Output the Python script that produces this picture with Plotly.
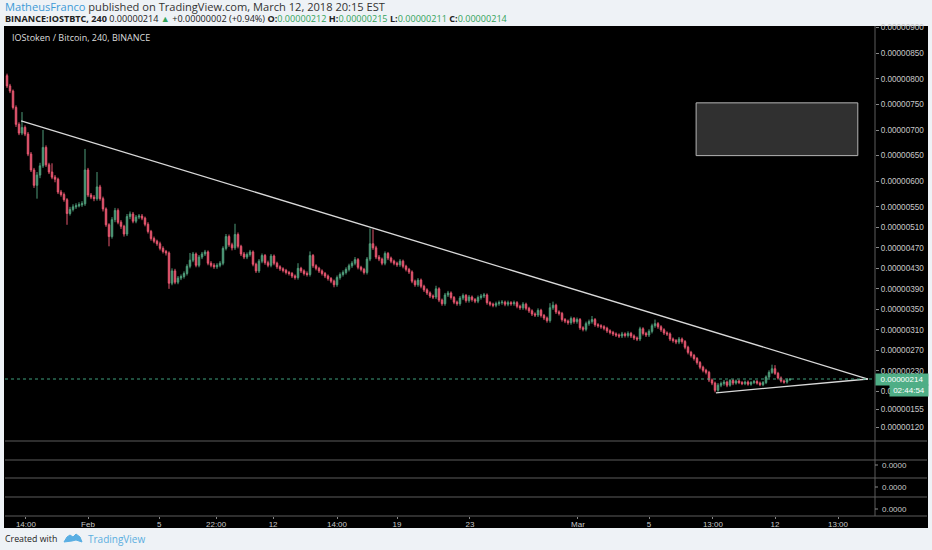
import numpy as np
import plotly.graph_objects as go

# IOST/BTC 4h candles, prices in satoshi (1e-8 BTC)
opens = [
    806, 786, 776, 744, 711, 694, 705, 692, 653, 622, 592, 612, 630, 666, 632, 618, 608, 604, 579, 574,
    564, 537, 545, 550, 552, 554, 556, 622, 573, 569, 566, 589, 566, 546, 515, 492, 525, 543, 520, 512,
    497, 531, 536, 522, 530, 532, 528, 516, 502, 488, 483, 478, 469, 463, 460, 401, 425, 403, 411, 414,
    420, 434, 446, 458, 436, 452, 458, 462, 440, 436, 433, 436, 440, 469, 492, 476, 470, 496, 473, 458,
    452, 457, 462, 438, 425, 444, 455, 441, 436, 454, 440, 433, 429, 426, 422, 420, 415, 412, 430, 425,
    420, 418, 455, 435, 430, 425, 420, 415, 410, 405, 398, 412, 418, 422, 428, 435, 440, 447, 432, 428,
    422, 448, 478, 470, 452, 448, 440, 459, 450, 444, 440, 437, 444, 434, 428, 423, 405, 398, 407, 395,
    388, 382, 376, 374, 390, 368, 361, 378, 382, 373, 364, 361, 372, 377, 367, 374, 369, 366, 373, 376,
    378, 363, 360, 358, 361, 363, 364, 360, 363, 361, 363, 356, 353, 360, 352, 347, 341, 339, 348, 338,
    333, 328, 353, 358, 345, 342, 330, 327, 324, 332, 326, 330, 314, 311, 322, 326, 330, 320, 318, 316,
    313, 308, 305, 302, 300, 298, 302, 299, 303, 298, 294, 292, 312, 303, 300, 307, 318, 322, 316, 310,
    304, 302, 292, 289, 286, 292, 287, 276, 266, 260, 254, 246, 237, 231, 227, 212, 206, 192, 202, 205,
    208, 202, 211, 206, 210, 207, 205, 208, 204, 207, 209, 206, 203, 207, 218, 227, 234, 225, 216, 210,
    208, 212,
]
highs = [
    810, 790, 779, 748, 715, 735, 709, 696, 657, 626, 618, 636, 700, 670, 636, 635, 612, 607, 583, 578,
    567, 550, 555, 557, 559, 561, 663, 626, 577, 573, 618, 593, 570, 549, 518, 530, 548, 547, 524, 515,
    536, 541, 540, 534, 536, 536, 531, 520, 505, 492, 486, 482, 473, 466, 463, 430, 429, 415, 418, 424,
    438, 460, 462, 461, 456, 462, 466, 465, 444, 440, 440, 444, 473, 497, 496, 480, 517, 500, 476, 462,
    461, 466, 465, 441, 448, 459, 458, 445, 458, 457, 443, 436, 432, 429, 425, 423, 418, 440, 433, 428,
    424, 463, 458, 438, 433, 428, 423, 418, 413, 408, 416, 422, 426, 432, 439, 444, 452, 450, 435, 431,
    452, 508, 506, 474, 456, 451, 463, 462, 453, 447, 443, 448, 447, 437, 431, 426, 408, 411, 410, 398,
    391, 385, 379, 396, 393, 371, 382, 386, 385, 376, 367, 376, 381, 380, 378, 377, 372, 377, 380, 382,
    381, 366, 363, 365, 367, 368, 367, 367, 366, 367, 366, 359, 364, 363, 355, 350, 344, 352, 351, 341,
    336, 362, 365, 361, 348, 345, 333, 330, 336, 335, 334, 333, 317, 326, 330, 337, 333, 323, 321, 319,
    316, 311, 308, 305, 303, 306, 305, 307, 306, 301, 297, 316, 315, 306, 311, 322, 330, 325, 319, 313,
    307, 305, 295, 292, 296, 295, 290, 279, 269, 263, 257, 249, 240, 234, 230, 215, 209, 206, 209, 212,
    211, 214, 214, 213, 213, 210, 211, 211, 210, 212, 212, 209, 210, 221, 231, 242, 241, 228, 219, 213,
    215, 215,
]
lows = [
    782, 772, 740, 706, 690, 690, 688, 649, 618, 587, 566, 606, 626, 628, 614, 604, 598, 575, 570, 560,
    515, 533, 541, 546, 549, 550, 552, 569, 565, 561, 562, 562, 541, 511, 473, 488, 520, 516, 507, 492,
    493, 526, 518, 518, 526, 524, 512, 498, 484, 479, 474, 465, 459, 455, 390, 397, 399, 399, 407, 410,
    416, 430, 442, 432, 432, 448, 454, 436, 432, 429, 429, 432, 436, 465, 472, 465, 466, 469, 454, 448,
    448, 453, 434, 421, 421, 440, 437, 432, 432, 436, 429, 425, 422, 418, 416, 411, 408, 408, 421, 416,
    414, 414, 431, 426, 421, 416, 411, 406, 401, 393, 394, 408, 414, 418, 424, 431, 436, 428, 424, 418,
    418, 444, 466, 448, 444, 436, 436, 446, 440, 436, 433, 433, 430, 424, 419, 401, 394, 394, 391, 384,
    378, 372, 370, 370, 364, 357, 357, 374, 369, 360, 357, 357, 368, 363, 363, 365, 362, 362, 369, 372,
    359, 356, 354, 354, 357, 359, 356, 356, 357, 357, 352, 349, 349, 348, 343, 337, 335, 335, 334, 329,
    324, 324, 349, 341, 338, 326, 323, 320, 320, 322, 322, 310, 307, 307, 318, 322, 316, 314, 312, 309,
    304, 301, 298, 296, 294, 294, 295, 295, 294, 290, 288, 288, 299, 296, 296, 303, 314, 312, 306, 300,
    298, 288, 285, 282, 282, 283, 272, 262, 256, 250, 242, 233, 227, 223, 208, 202, 188, 189, 198, 201,
    198, 199, 202, 203, 204, 202, 202, 201, 201, 204, 203, 200, 200, 204, 215, 224, 222, 213, 207, 205,
    205, 211,
]
closes = [
    786, 776, 744, 711, 694, 705, 692, 653, 622, 592, 612, 630, 666, 632, 618, 608, 604, 579, 574, 564,
    537, 545, 550, 552, 554, 556, 622, 573, 569, 566, 589, 566, 546, 515, 492, 525, 543, 520, 512, 497,
    531, 536, 522, 530, 532, 528, 516, 502, 488, 483, 478, 469, 463, 460, 401, 425, 403, 411, 414, 420,
    434, 446, 458, 436, 452, 458, 462, 440, 436, 433, 436, 440, 469, 492, 476, 470, 496, 473, 458, 452,
    457, 462, 438, 425, 444, 455, 441, 436, 454, 440, 433, 429, 426, 422, 420, 415, 412, 430, 425, 420,
    418, 455, 435, 430, 425, 420, 415, 410, 405, 398, 412, 418, 422, 428, 435, 440, 447, 432, 428, 422,
    448, 478, 470, 452, 448, 440, 459, 450, 444, 440, 437, 444, 434, 428, 423, 405, 398, 407, 395, 388,
    382, 376, 374, 390, 368, 361, 378, 382, 373, 364, 361, 372, 377, 367, 374, 369, 366, 373, 376, 378,
    363, 360, 358, 361, 363, 364, 360, 363, 361, 363, 356, 353, 360, 352, 347, 341, 339, 348, 338, 333,
    328, 353, 358, 345, 342, 330, 327, 324, 332, 326, 330, 314, 311, 322, 326, 330, 320, 318, 316, 313,
    308, 305, 302, 300, 298, 302, 299, 303, 298, 294, 292, 312, 303, 300, 307, 318, 322, 316, 310, 304,
    302, 292, 289, 286, 292, 287, 276, 266, 260, 254, 246, 237, 231, 227, 212, 206, 192, 202, 205, 208,
    202, 211, 206, 210, 207, 205, 208, 204, 207, 209, 206, 203, 207, 218, 227, 234, 225, 216, 210, 208,
    212, 214,
]

# price scale labels (satoshi) and time labels (bar index position)
price_ticks = [900, 850, 800, 750, 700, 650, 600, 550, 510, 470, 430, 390, 350, 310, 270, 230, 190, 155, 120]
time_ticks = [6.3, 27, 50.7, 69.7, 88.7, 110, 130, 154.3, 190.3, 214, 235.3, 256, 277]
time_labels = ["14:00", "Feb", "5", "22:00", "12", "14:00", "19", "23", "Mar", "5", "13:00", "12", "13:00"]

# drawings on the chart
upper_trend_x = [4.7, 287.0]
upper_trend_y = [718, 214]
lower_trend_x = [236.3, 287.0]
lower_trend_y = [187, 214]
box_x = [229.7, 283.6]
box_y = [650, 753]
last_price = 214

SAT = 1e-8
bars = np.arange(len(closes))

W, H = 932, 550
L, R, T, B = 5, 875, 26, 516  # plot area in pixels


def px(x):
    return (x - L) / (R - L)


def py(y):
    return (B - y) / (B - T)


RED = "#e5566f"
GREEN = "#4f9c7a"
AXIS_TXT = "#c8c8c8"
SEP = "#5c5c5c"

fig = go.Figure()

fig.add_trace(go.Candlestick(
    x=bars,
    open=np.array(opens) * SAT, high=np.array(highs) * SAT,
    low=np.array(lows) * SAT, close=np.array(closes) * SAT,
    increasing=dict(line=dict(color=GREEN, width=1), fillcolor=GREEN),
    decreasing=dict(line=dict(color=RED, width=1), fillcolor=RED),
    whiskerwidth=0, hoverinfo="skip", showlegend=False,
))

for tx, ty in [(upper_trend_x, upper_trend_y), (lower_trend_x, lower_trend_y)]:
    fig.add_trace(go.Scatter(
        x=tx, y=np.array(ty) * SAT, mode="lines",
        line=dict(color="#d9d9d9", width=1.3), hoverinfo="skip", showlegend=False,
    ))

# rectangle drawing
fig.add_shape(type="rect", xref="x", yref="y",
              x0=box_x[0], x1=box_x[1], y0=box_y[0] * SAT, y1=box_y[1] * SAT,
              fillcolor="#303030", line=dict(color="#b5b5b5", width=1))

# last price dotted line
fig.add_shape(type="line", xref="paper", yref="y", x0=0, x1=1,
              y0=last_price * SAT, y1=last_price * SAT,
              line=dict(color="#3f9e7c", width=1, dash="dot"))

# black chart canvas behind everything
fig.add_shape(type="rect", xref="paper", yref="paper", layer="below",
              x0=px(4), x1=px(928), y0=py(528), y1=py(26),
              fillcolor="#000000", line=dict(width=0))

# pane separators and price axis line
for yy in [441, 460, 478, 497, 516]:
    fig.add_shape(type="line", xref="paper", yref="paper",
                  x0=px(5), x1=px(927), y0=py(yy), y1=py(yy),
                  line=dict(color=SEP, width=1))
fig.add_shape(type="line", xref="paper", yref="paper",
              x0=1, x1=1, y0=py(516), y1=py(26), line=dict(color=SEP, width=1))

# empty indicator panes labels
for yy in [465, 487, 509]:
    fig.add_shape(type="line", xref="paper", yref="paper",
                  x0=1, x1=px(878), y0=py(yy), y1=py(yy), line=dict(color="#888", width=1))
    fig.add_annotation(x=px(880), y=py(yy), xref="paper", yref="paper",
                       text="0.0000", showarrow=False, xanchor="left", yanchor="middle",
                       font=dict(family="Liberation Sans", size=8, color=AXIS_TXT))

# last price label and countdown
fig.add_annotation(x=px(875), y=last_price * SAT, xref="paper", yref="y",
                   text="0.00000214", showarrow=False, xanchor="left", yanchor="middle",
                   bgcolor="#4fae86", borderpad=1, width=50, align="center",
                   font=dict(family="Liberation Sans", size=8, color="#ffffff"))
fig.add_annotation(x=px(889), y=py(390), xref="paper", yref="paper",
                   text="02:44:54", showarrow=False, xanchor="left", yanchor="middle",
                   bgcolor="#4fae86", borderpad=1, width=36, align="center",
                   font=dict(family="Liberation Sans", size=8, color="#ffffff"))

# chart legend title
fig.add_annotation(x=px(10), y=py(37), xref="paper", yref="paper",
                   text="IOStoken / Bitcoin, 240, BINANCE", showarrow=False,
                   xanchor="left", yanchor="middle",
                   font=dict(family="Open Sans", size=9, color="#dddddd"))

# header
fig.add_annotation(x=px(3), y=py(6.5), xref="paper", yref="paper", showarrow=False,
                   xanchor="left", yanchor="middle",
                   text="<span style='color:#3d9ad6'>MatheusFranco</span> published on TradingView.com, March 12, 2018 20:15 EST",
                   font=dict(family="Open Sans", size=11.1, color="#333333"))
g = "<span style='color:#33a35a'>"
fig.add_annotation(x=px(3), y=py(18), xref="paper", yref="paper", showarrow=False,
                   xanchor="left", yanchor="middle",
                   text=("<b>BINANCE:IOSTBTC, 240</b> 0.00000214 " + g + "▲</span> +0.00000002 (+0.94%) "
                         "<b>O:</b>" + g + "0.00000212</span> <b>H:</b>" + g + "0.00000215</span> "
                         "<b>L:</b>" + g + "0.00000211</span> <b>C:</b>" + g + "0.00000214</span>"),
                   font=dict(family="Open Sans", size=9.1, color="#222222"))

# footer
fig.add_annotation(x=px(3), y=py(539), xref="paper", yref="paper", showarrow=False,
                   xanchor="left", yanchor="middle", text="Created with",
                   font=dict(family="Open Sans", size=8.8, color="#222222"))
logo = [(64, 542), (67, 537), (70, 535), (73, 537), (76, 534), (80, 537), (82, 542), (76, 540), (72, 541)]
path = "M " + " L ".join(f"{px(a):.5f},{py(b):.5f}" for a, b in logo) + " Z"
fig.add_shape(type="path", xref="paper", yref="paper", path=path,
              fillcolor="#58aee3", line=dict(color="#58aee3", width=1))
fig.add_annotation(x=px(86), y=py(539), xref="paper", yref="paper", showarrow=False,
                   xanchor="left", yanchor="middle", text="TradingView",
                   font=dict(family="Open Sans", size=10, color="#5aaee0"))

fig.update_layout(
    width=W, height=H,
    margin=dict(l=L, r=W - R, t=T, b=H - B, pad=0),
    paper_bgcolor="#eef2f6",
    plot_bgcolor="#000000",
    showlegend=False,
    xaxis=dict(
        range=[-0.67, 289.33], rangeslider=dict(visible=False),
        anchor="free", position=0,
        showgrid=False, zeroline=False, showline=False,
        tickmode="array", tickvals=time_ticks, ticktext=time_labels,
        ticks="outside", ticklen=2, tickcolor="#888", ticklabelstandoff=-2,
        tickfont=dict(family="Liberation Sans", size=8, color=AXIS_TXT),
    ),
    yaxis=dict(
        domain=[py(441), 1], range=[93 * SAT, 903 * SAT],
        side="right", showgrid=False, zeroline=False, showline=False,
        tickmode="array", tickvals=[v * SAT for v in price_ticks], tickformat=".8f",
        ticks="outside", ticklen=3, tickcolor="#888",
        tickfont=dict(family="Liberation Sans", size=8.2, color=AXIS_TXT),
    ),
)

# page has a default 8px body margin; drop it so the figure sits at the top-left corner
fig.write_html("out.html", config={"displayModeBar": False},
               post_script="document.body.style.margin='0';")
